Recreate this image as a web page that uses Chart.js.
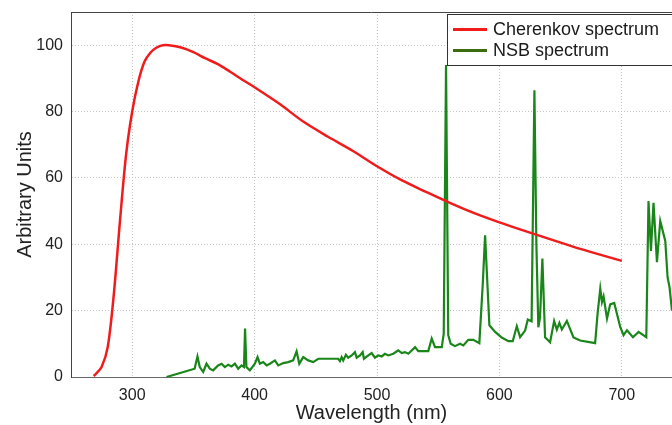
<!DOCTYPE html>
<html>
<head>
<meta charset="utf-8">
<script src="https://cdn.jsdelivr.net/npm/chart.js@4"></script>
<style>
  html, body { margin: 0; padding: 0; background: #fff; }
  #wrap { width: 672px; height: 425px; }
</style>
</head>
<body>
<div id="wrap"><canvas id="specChart"></canvas></div>
<script>
// Cherenkov spectrum (red)
var cherenkovNm = [268.5, 270, 275, 280, 285, 290, 295, 300, 305, 310, 315, 320, 325, 330, 340, 350, 360, 370, 380, 390, 400, 420, 440, 460, 480, 500, 520, 540, 560, 580, 600, 620, 640, 660, 680, 700];
var cherenkovVal = [0.3, 0.8, 3, 9, 25, 47, 67, 80, 89, 95, 97.8, 99.3, 100, 100, 99.3, 97.9, 96, 94.3, 92, 89.6, 87.3, 82.4, 76.9, 72.4, 68.2, 63.5, 59.3, 55.8, 52.4, 49.3, 46.6, 44.1, 41.7, 39.3, 37.1, 35];

// night sky background spectrum (green)
var nsbNm = [328, 351, 353.3, 355.2, 358, 360.7, 363.4, 366.1, 370.2, 373, 375.7, 378.4, 381.2, 383.9, 386.6, 389.3, 391.3, 392.2, 393.3, 396.1,
  400.2, 402.4, 404.3, 407, 409.8, 412.5, 416.6, 419.3, 423.4, 427.4, 431.5, 434.3, 436.5, 439.7, 443.8, 447.9, 452, 456.1,
  468.3, 469.7, 471.1, 472.4, 474.6, 476.5, 479.3, 482, 483.4, 486.1, 488.3, 489.3, 492.9, 495.6, 498.3, 501, 503.8, 506.5, 509.2,
  513.3, 517.4, 520.2, 522.9, 525.6, 531.1, 533.7, 541.9, 544.7, 547.4, 548.8, 552.9, 554.5, 556.4, 558.2, 560.2, 563.7, 567.8,
  570.5, 574.6, 578.7, 583.6, 586.4, 588.3, 590.2, 591.8, 596.5, 601.9, 607.3, 610.9, 614.2, 616.9, 621, 623.2, 626.3, 628.6,
  630.2, 631.8, 633.2, 635.1, 637.3, 641.4, 644.7, 646.9, 649, 651, 655.1, 660.5, 666, 678.2, 680.2, 682.4, 683.8, 685.1,
  687.9, 690.5, 693.8, 698.7, 701.4, 704.2, 709.1, 713.7, 720, 721.8, 723.8, 725.9, 728.7, 731.4, 735.5, 737.4, 739, 741];
var nsbVal = [0, 2.5, 6.2, 3, 1.5, 4, 2.5, 2, 3.5, 4, 3, 3.7, 3.2, 4, 2.5, 3.5, 3, 14.6, 3, 2,
  4, 6, 4, 4.5, 3.5, 4, 5, 3.5, 4.2, 4.5, 5, 7.7, 4, 6, 5, 4.5, 5.5, 5.5,
  5.5, 4.8, 6, 5, 6.7, 5.8, 6.5, 7.5, 5.8, 6.5, 7.5, 5.5, 6.5, 7.2, 5.8, 6.5, 6.2, 7, 6.5,
  7, 8, 7.2, 7.5, 7, 9, 7.8, 7.8, 11.6, 9, 9, 9, 13, 94, 12.6, 10, 9.3, 10,
  9.5, 11.2, 11.2, 10.2, 28, 42.7, 28, 15.6, 13.6, 11.9, 10.8, 10.8, 15.3, 12, 14, 17.3, 16.8, 86.4,
  40, 15, 18, 35.7, 12, 10.5, 16.9, 14.3, 16.3, 14.3, 16.9, 11.9, 11, 10.2, 19.1, 26.6, 22.6, 24.3,
  17.6, 21.9, 22.3, 15.1, 12.6, 14.1, 12, 13.6, 12, 53, 38, 52.5, 34.6, 47, 41, 30, 27, 20];

var xTicks = [300, 400, 500, 600, 700];
var yTicks = [0, 20, 40, 60, 80, 100];

function toPoints(xs, ys) {
  return xs.map(function (x, i) { return { x: x, y: ys[i] }; });
}

var FONT = "'Liberation Sans', Arial, sans-serif";

// frame line on top + boxed legend in the upper right corner
var framePlugin = {
  id: 'frameAndLegend',
  afterDraw: function (chart) {
    var c = chart.ctx, a = chart.chartArea;
    c.save();
    c.strokeStyle = '#444';
    c.lineWidth = 1;
    c.beginPath();
    c.moveTo(a.left, a.top + 0.5);
    c.lineTo(a.right, a.top + 0.5);
    c.stroke();

    var bx = 447.5, by = 14.5;
    c.fillStyle = '#fff';
    c.fillRect(bx, by, 240, 51);
    c.strokeStyle = '#333';
    c.strokeRect(bx, by, 240, 51);
    c.font = '18px ' + FONT;
    c.textBaseline = 'middle';
    chart.data.datasets.forEach(function (ds, i) {
      var y = by + 15 + i * 21;
      c.strokeStyle = ds.legendColor || ds.borderColor;
      c.lineWidth = 3;
      c.beginPath();
      c.moveTo(453, y);
      c.lineTo(487, y);
      c.stroke();
      c.fillStyle = '#1a1a1a';
      c.fillText(ds.label, 493, y + 1);
    });
    c.restore();
  }
};

var ctx = document.getElementById('specChart').getContext('2d');
var specChart = new Chart(ctx, {
  type: 'line',
  data: {
    datasets: [
      {
        label: 'Cherenkov spectrum',
        data: toPoints(cherenkovNm, cherenkovVal),
        borderColor: '#f01c1c',
        legendColor: '#f01c1c',
        borderWidth: 2.5,
        pointRadius: 0,
        tension: 0.3,
        fill: false
      },
      {
        label: 'NSB spectrum',
        data: toPoints(nsbNm, nsbVal),
        borderColor: '#1a861a',
        legendColor: '#3d6b10',
        borderWidth: 2.2,
        pointRadius: 0,
        tension: 0,
        fill: false
      }
    ]
  },
  options: {
    responsive: true,
    maintainAspectRatio: false,
    animation: false,
    layout: { padding: { top: 12, right: 0, left: 0, bottom: 0 } },
    plugins: {
      legend: { display: false },
      tooltip: { enabled: false }
    },
    scales: {
      x: {
        type: 'linear',
        min: 250,
        max: 741,
        afterBuildTicks: function (s) { s.ticks = xTicks.map(function (v) { return { value: v }; }); },
        afterFit: function (s) { s.height = 48; s.paddingLeft = 0; s.paddingRight = 0; },
        grid: { color: '#c4c4c4', lineWidth: 1, drawTicks: false },
        border: { display: true, color: '#666', width: 1, dash: [1, 2] },
        ticks: { color: '#222', font: { family: FONT, size: 16 }, padding: 9, maxRotation: 0 },
        title: { display: true, text: 'Wavelength (nm)', color: '#222', font: { family: FONT, size: 20 }, padding: { top: 4, bottom: 0 } }
      },
      y: {
        min: 0,
        max: 110,
        afterBuildTicks: function (s) { s.ticks = yTicks.map(function (v) { return { value: v }; }); },
        afterFit: function (s) { s.width = 71; s.paddingTop = 0; s.paddingBottom = 0; },
        grid: { color: '#c4c4c4', lineWidth: 1, drawTicks: false },
        border: { display: true, color: '#444', width: 1, dash: [1, 2] },
        ticks: { color: '#222', font: { family: FONT, size: 16 }, padding: 8 },
        title: { display: true, text: 'Arbitrary Units', color: '#222', font: { family: FONT, size: 20 }, padding: { top: 13, bottom: 0 } }
      }
    }
  },
  plugins: [framePlugin]
});
</script>
</body>
</html>
